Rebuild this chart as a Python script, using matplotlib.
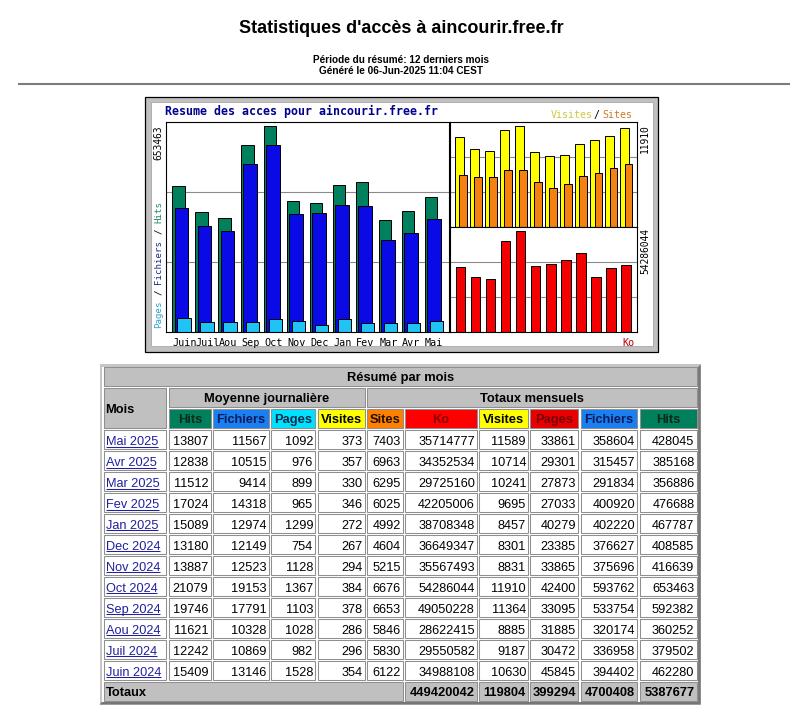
#!/usr/bin/env python3
"""
Redraw the Webalizer summary page for aincourir.free.fr:
the 12 month graph and the "Résumé par mois" table.

Output: out.png (808x715)
"""

import matplotlib.pyplot as plt
from matplotlib.patches import Rectangle, Polygon
from matplotlib.transforms import blended_transform_factory

# --- Data: newest month first, as listed in the table ---
months = ["Mai 2025", "Avr 2025", "Mar 2025", "Fev 2025", "Jan 2025", "Dec 2024",
          "Nov 2024", "Oct 2024", "Sep 2024", "Aou 2024", "Juil 2024", "Juin 2024"]

daily_hits = [13807, 12838, 11512, 17024, 15089, 13180, 13887, 21079, 19746, 11621, 12242, 15409]
daily_files = [11567, 10515, 9414, 14318, 12974, 12149, 12523, 19153, 17791, 10328, 10869, 13146]
daily_pages = [1092, 976, 899, 965, 1299, 754, 1128, 1367, 1103, 1028, 982, 1528]
daily_visits = [373, 357, 330, 346, 272, 267, 294, 384, 378, 286, 296, 354]

sites = [7403, 6963, 6295, 6025, 4992, 4604, 5215, 6676, 6653, 5846, 5830, 6122]
kbytes = [35714777, 34352534, 29725160, 42205006, 38708348, 36649347,
          35567493, 54286044, 49050228, 28622415, 29550582, 34988108]
visits = [11589, 10714, 10241, 9695, 8457, 8301, 8831, 11910, 11364, 8885, 9187, 10630]
pages = [33861, 29301, 27873, 27033, 40279, 23385, 33865, 42400, 33095, 31885, 30472, 45845]
files = [358604, 315457, 291834, 400920, 402220, 376627, 375696, 593762, 533754, 320174, 336958, 394402]
hits = [428045, 385168, 356886, 476688, 467787, 408585, 416639, 653463, 592382, 360252, 379502, 462280]

# Totaux row: Ko, Visites, Pages, Fichiers, Hits
totals = [449420042, 119804, 399294, 4700408, 5387677]

head_labels = ["Hits", "Fichiers", "Pages", "Visites",
               "Sites", "Ko", "Visites", "Pages", "Fichiers", "Hits"]

# --- Styles ---
W, H = 808, 715
SANS = "Liberation Sans"
MONO = "DejaVu Sans Mono"
GRAY = "#c0c0c0"
LINK = "#1f1fa0"

C_HITS, C_FILES, C_PAGES = "#00805c", "#0a0ae6", "#20c4f4"
C_VISITS, C_SITES, C_KB = "#ffff00", "#f58210", "#f40000"

head_bg = ["#00805c", "#1a7ff0", "#00e0ff", "#ffff00",
           "#ff8000", "#ff0000", "#ffff00", "#e60000", "#1a7ff0", "#00805c"]
head_fg = ["#0a2a1a", "#0a1a5a", "#0a2a4a", "#000000",
           "#201000", "#8b0000", "#000000", "#7a0000", "#0a1a5a", "#0a2a1a"]

fig = plt.figure(figsize=(W / 100, H / 100), dpi=100)

# page layer in pixel coordinates (y down)
page = fig.add_axes([0, 0, 1, 1])
page.set_xlim(0, W)
page.set_ylim(H, 0)
page.axis("off")


def px_axes(x0, y0, x1, y1):
    return fig.add_axes([x0 / W, 1 - y1 / H, (x1 - x0) / W, (y1 - y0) / H])


# --- Page header ---
page.text(401, 33.3, "Statistiques d'accès à aincourir.free.fr", ha="center",
          va="baseline", fontsize=13, fontweight="bold", family=SANS)
page.text(401, 63.3, "Période du résumé: 12 derniers mois", ha="center",
          va="baseline", fontsize=7.2, fontweight="bold", family=SANS)
page.text(401, 74.3, "Généré le 06-Jun-2025 11:04 CEST", ha="center",
          va="baseline", fontsize=7.2, fontweight="bold", family=SANS)
page.plot([18, 790], [83.8, 83.8], color="#7c7c7c", lw=1.5, solid_capstyle="butt")

# --- Graph frame ---
page.add_patch(Rectangle((145, 97.3), 512.5, 254.5, fc=GRAY, ec="black", lw=0.9))
page.add_patch(Rectangle((150.5, 102.3), 502.5, 244, fc="white", ec="#a8a8a8", lw=0.6))

page.text(165, 115.5, "Resume des acces pour aincourir.free.fr", ha="left",
          va="baseline", fontsize=8.4, fontweight="bold", family=MONO, color="#000090")

# chronological order for the graph
months_c = [m.split()[0] for m in months[::-1]]
hits_c, files_c, pages_c = hits[::-1], files[::-1], pages[::-1]
visits_c, sites_c, kb_c = visits[::-1], sites[::-1], kbytes[::-1]
x = list(range(len(months_c)))


def style_panel(ax, ytop):
    ax.set_ylim(0, ytop)
    ax.set_xticks([])
    ax.set_yticks([])
    for s in ax.spines.values():
        s.set_color("black")
        s.set_linewidth(0.8)
    for k in (1, 2):
        ax.axhline(ytop * k / 3, color="#8a8a8a", lw=0.8, zorder=0.5)


bar_kw = dict(align="edge", edgecolor="black", linewidth=0.7, zorder=2)

ax_main = px_axes(166, 122, 449, 332)
ax_main.bar(x, hits_c, width=0.55, color=C_HITS, **bar_kw)
ax_main.bar([i + 0.113 for i in x], files_c, width=0.58, color=C_FILES, **bar_kw)
ax_main.bar([i + 0.22 for i in x], pages_c, width=0.59, color=C_PAGES, **bar_kw)
ax_main.set_xlim(-0.26, 12.06)
style_panel(ax_main, max(hits) * 1.02)

blend = blended_transform_factory(ax_main.transData, ax_main.transAxes)
for i, m in zip(x, months_c):
    ax_main.text(i + 0.02, -0.067, m, transform=blend, ha="left", va="baseline",
                 fontsize=7.3, family=MONO, clip_on=False)

ax_vs = px_axes(450, 122, 637, 226.5)
ax_vs.bar(x, visits_c, width=0.6, color=C_VISITS, **bar_kw)
ax_vs.bar([i + 0.29 for i in x], sites_c, width=0.51, color=C_SITES, **bar_kw)
ax_vs.set_xlim(-0.31, 12.11)
style_panel(ax_vs, max(visits) * 1.037)

ax_ko = px_axes(450, 227, 637, 332)
ax_ko.bar([i + 0.07 for i in x], kb_c, width=0.63, color=C_KB, **bar_kw)
ax_ko.set_xlim(-0.31, 12.11)
style_panel(ax_ko, max(kbytes) * 1.037)

# graph side labels
page.text(158.5, 126, str(max(hits)), rotation=90, ha="center", va="top",
          fontsize=6.9, family=MONO)
page.text(645, 124.5, str(max(visits)), rotation=90, ha="center", va="top",
          fontsize=6.9, family=MONO)
page.text(645, 228, str(max(kbytes)), rotation=90, ha="center", va="top",
          fontsize=6.9, family=MONO)

adv = 0.602 * 6.6 * 100 / 72
for start, word, col in [(0, "Pages", "#2ea2cc"), (6, "/", "black"),
                         (8, "Fichiers", "#1c2c88"), (17, "/", "black"),
                         (19, "Hits", "#24866a")]:
    page.text(158.5, 328 - start * adv, word, rotation=90, ha="center", va="bottom",
              fontsize=6.6, family=MONO, color=col)

page.text(551, 118.3, "Visites", ha="left", va="baseline", fontsize=7.2,
          family=MONO, color="#cfc640")
page.text(594, 118.3, "/", ha="left", va="baseline", fontsize=7.2, family=MONO)
page.text(602, 118.3, "Sites", ha="left", va="baseline", fontsize=7.2,
          family=MONO, color="#cc7c28")
page.text(635, 345.7, "Ko", ha="right", va="baseline", fontsize=7.3,
          family=MONO, color="#c00000")

# --- Table ---
col_left = [103.7, 169, 213, 271.3, 318, 367.3, 405, 479.3, 530, 581, 640]
col_right = [166.3, 210.7, 269, 315.3, 364.7, 403, 477.3, 528.3, 578.3, 637.3, 696.7]
ROW0, PITCH, ROW_H = 367.3, 21.0, 18.7


def top(k):
    return ROW0 + PITCH * k


def cell(c0, c1, k0, k1, fc):
    page.add_patch(Rectangle((col_left[c0], top(k0)), col_right[c1] - col_left[c0],
                             top(k1) + ROW_H - top(k0), fc=fc, ec="#8f8f8f", lw=0.75))


# outer bevelled border
ox0, oy0, ox1, oy1, b = 99.5, 364.3, 700.7, 704.5, 2.6
page.add_patch(Rectangle((ox0, oy0), ox1 - ox0, oy1 - oy0, fc="#c6c6c6", ec="none"))
page.add_patch(Polygon([(ox1, oy0), (ox1, oy1), (ox0, oy1), (ox0 + b, oy1 - b),
                        (ox1 - b, oy1 - b), (ox1 - b, oy0 + b)], closed=True,
                       fc="#767676", ec="none"))
page.add_patch(Rectangle((ox0 + b, oy0 + b), ox1 - ox0 - 2 * b, oy1 - oy0 - 2 * b,
                         fc="white", ec="none"))

hb = dict(va="baseline", fontsize=9.3, fontweight="bold", family=SANS)
td = dict(va="baseline", fontsize=9.2, family=SANS)

cell(0, 10, 0, 0, GRAY)
page.text((col_left[0] + col_right[10]) / 2, top(0) + 13.9, "Résumé par mois", ha="center", **hb)
cell(0, 0, 1, 2, GRAY)
page.text(105.5, 412.7, "Mois", ha="left", **hb)
cell(1, 4, 1, 1, GRAY)
page.text((col_left[1] + col_right[4]) / 2, top(1) + 13.9, "Moyenne journalière",
          ha="center", **hb)
cell(5, 10, 1, 1, GRAY)
page.text((col_left[5] + col_right[10]) / 2, top(1) + 13.9, "Totaux mensuels",
          ha="center", **hb)
for c, (lab, bg, fg) in enumerate(zip(head_labels, head_bg, head_fg), start=1):
    cell(c, c, 2, 2, bg)
    page.text((col_left[c] + col_right[c]) / 2, top(2) + 13.9, lab, ha="center",
              color=fg, **hb)

links = []
for r, m in enumerate(months):
    k = 3 + r
    row = [daily_hits[r], daily_files[r], daily_pages[r], daily_visits[r],
           sites[r], kbytes[r], visits[r], pages[r], files[r], hits[r]]
    cell(0, 0, k, k, "white")
    links.append(page.text(105.5, top(k) + 14.4, m, ha="left", color=LINK, **td))
    for c, v in enumerate(row, start=1):
        cell(c, c, k, k, "white")
        page.text(col_right[c] - 2.3, top(k) + 14.4, str(v), ha="right", **td)

kt = 3 + len(months)
cell(0, 5, kt, kt, GRAY)
page.text(105.5, top(kt) + 14.2, "Totaux", ha="left", **hb)
for c, v in enumerate(totals, start=6):
    cell(c, c, kt, kt, GRAY)
    page.text(col_right[c] - 2.3, top(kt) + 14.2, str(v), ha="right", **hb)

# underline the month links
fig.canvas.draw()
for t in links:
    bb = t.get_window_extent()
    yb = t.get_position()[1] + 1.8
    page.plot([bb.x0, bb.x1], [yb, yb], color=LINK, lw=0.75, solid_capstyle="butt")

fig.savefig("out.png", dpi=100)
print("Saved: out.png")
plt.close(fig)
